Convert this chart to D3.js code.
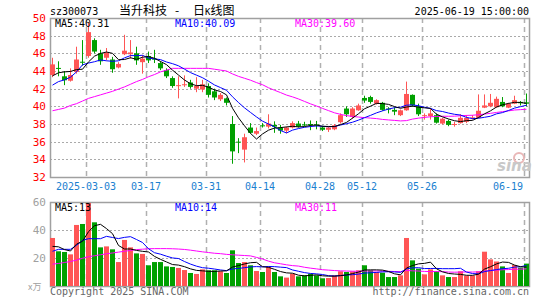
<!DOCTYPE html>
<html>
<head>
<meta charset="utf-8">
<script src="https://cdn.jsdelivr.net/npm/d3@7"></script>
<style>
body { margin: 0; background: #fff; }
svg { display: block; }
text { font-family: "DejaVu Sans Mono", monospace; font-size: 10px; }
</style>
</head>
<body>
<script>
// daily candles 2025-02-21 .. 2025-06-19 (80 trading days)
var open  = [43.55,44.35,43.4,42.9,43.9,45.05,45.7,47.5,46.0,45.5, 45.3,44.4,45.9,45.9,46.0,45.0,45.7,45.4,44.9,44.1,
             43.2,42.3,42.4,42.7,42.0,41.9,42.3,41.7,40.8,40.9, 38.0,36.0,35.1,37.6,36.9,37.85,37.7,37.9,37.6,37.25,
             37.6,38.05,37.95,38.0,37.95,37.6,37.35,37.4,38.2,39.75, 38.8,39.55,40.95,41.05,40.3,40.4,39.75,39.6,39.0,39.55,
             41.3,40.0,38.9,38.9,39.0,38.05,38.35,37.9,38.1,38.25, 38.65,38.7,39.85,40.0,39.9,40.5,39.85,40.3,40.5,40.45];
var close = [44.75,44.25,42.95,43.55,45.3,44.95,48.4,46.2,45.1,46.1, 44.2,44.8,46.3,46.1,45.2,45.4,45.2,45.3,44.3,43.4,
             42.3,42.4,42.5,42.2,42.3,42.5,41.3,41.0,41.3,40.4, 34.9,35.9,36.5,37.0,37.2,37.75,38.05,37.7,37.25,37.6,
             38.1,37.7,37.9,37.9,37.85,37.35,37.6,37.85,39.0,39.1, 39.75,40.1,40.65,40.5,40.7,39.6,39.65,39.4,39.55,41.4,
             40.1,39.1,39.0,39.2,38.15,38.6,37.9,38.0,38.7,38.7, 38.75,39.5,40.1,40.4,40.85,40.0,40.3,40.7,40.35,40.3];
var high  = [45.5,45.1,44.0,44.3,46.75,47.5,49.5,47.7,46.4,46.6, 45.6,45.0,48.1,47.5,46.75,45.8,46.2,46.4,45.1,44.3,
             43.4,43.4,43.5,43.0,43.3,43.0,42.6,42.0,41.5,41.0, 38.9,36.4,36.9,38.1,37.6,38.1,39.1,38.3,37.9,37.7,
             38.3,38.35,38.25,38.4,38.35,37.8,37.7,38.0,39.2,40.0, 39.9,40.3,41.2,41.2,40.8,40.5,39.9,39.9,39.65,42.8,
             41.35,40.3,39.2,39.7,39.2,38.7,38.5,38.25,39.1,39.0, 39.0,41.35,41.35,41.4,41.1,41.05,40.4,41.2,40.6,41.45];
var low   = [43.3,43.4,42.4,42.8,43.7,44.6,45.5,46.0,44.7,45.2, 43.8,44.3,45.8,45.4,44.7,43.7,44.9,44.9,44.1,43.2,
             42.1,40.9,42.2,42.0,41.6,41.6,41.0,40.7,40.6,40.1, 33.5,34.7,33.65,36.9,36.75,37.6,37.5,37.0,36.9,36.95,
             37.5,37.6,37.75,37.3,37.4,37.2,37.1,37.3,38.05,38.8, 38.6,39.5,40.4,40.3,40.2,39.5,39.2,39.0,38.9,39.5,
             39.95,38.9,38.5,38.5,38.05,37.95,37.75,37.7,38.05,38.1, 38.5,38.65,39.8,39.9,39.85,39.9,39.8,40.25,40.1,40.0];
// volume, 10k lots
var volume = [34.3,24.8,24.3,22.6,43.6,44.3,59.3,45.5,27.6,28.3, 26.2,17.1,32.9,27.6,23.3,22.9,14.8,17.1,17.1,14.0,
              13.6,12.9,11.4,9.3,8.6,11.9,11.2,11.2,10.5,9.3, 25.5,16.4,17.1,14.8,10.7,10.0,14.0,10.0,6.9,6.0,
              8.8,6.9,7.6,8.8,7.6,5.5,5.7,7.6,10.5,10.0, 10.5,11.2,14.8,11.2,10.0,9.5,6.4,6.4,7.6,34.3,
              18.3,12.4,8.3,11.9,10.5,7.6,6.4,6.4,10.5,7.4, 7.4,10.5,24.5,19.0,17.5,14.0,9.3,15.0,13.1,16.0];

// moving average values at the left edge (history before the window)
var ma5Head  = [43.45,43.8,43.9,43.95];
var ma10Head = [42.4,42.8,43.0,43.3,43.9,44.7,44.9,45.05,45.25];
var ma30Head = [39.5,39.65,39.8,40.1,40.3,40.6,40.9,41.1,41.3,41.5, 41.7,41.95,42.2,42.5,42.8,43.05,43.35,43.6,43.9,44.1,
                44.3,44.3,44.3,44.3,44.3,44.3,44.3,44.2,44.1];
var vma5Head  = [28.3,28.0,26.0,25.0];
var vma10Head = [24.8,26.2,26.2,26.2,29.0,32.6,33.8,33.8,33.8];
var vma30Head = [15.6,16.1,16.8,17.5,18.5,19.8,20.9,21.6,22.3,23.0, 23.6,24.2,24.8,25.4,26.0,26.3,26.6,26.7,26.7,26.7,
                 26.6,26.4,26.1,25.6,25.0,24.4,23.9,23.4,23.1];

var tickIdx = [6,16,26,35,45,52,62,79];
var tickLabels = ['2025-03-03','03-17','03-31','04-14','04-28','05-12','05-26','06-19'];
var priceTicks = [32,34,36,38,40,42,44,46,48,50];
var volTicks = [20,40,60];

var red = "#ff5555", green = "#00a000";

function movAvg(arr, n, head) {
    return arr.map(function (d, i) {
        if (i < n - 1) return head[i];
        return d3.mean(arr.slice(i - n + 1, i + 1));
    });
}

var ma5 = movAvg(close, 5, ma5Head), ma10 = movAvg(close, 10, ma10Head), ma30 = movAvg(close, 30, ma30Head);
var vma5 = movAvg(volume, 5, vma5Head), vma10 = movAvg(volume, 10, vma10Head), vma30 = movAvg(volume, 30, vma30Head);

const svg = d3.select("body").append("svg").attr("width", 545).attr("height", 300);

const x = d3.scaleLinear().domain([0, 80]).range([50, 530]);
const y = d3.scaleLinear().domain([32, 50]).range([177, 18]);
const yv = d3.scaleLinear().domain([0, 60]).range([286, 202]);

// header
svg.append("text").attr("x", 50).attr("y", 15).text("sz300073");
svg.append("text").attr("x", 529).attr("y", 15).attr("text-anchor", "end").text("2025-06-19 15:00:00");
var title = svg.append("text").attr("y", 15)
    .style("font-family", "'Noto Sans CJK SC', sans-serif").style("font-size", "12px");
title.append("tspan").attr("x", 119).text("当升科技");
title.append("tspan").attr("x", 175).text("-");
title.append("tspan").attr("x", 193).text("日");
title.append("tspan").style("font-family", "'DejaVu Sans Mono', monospace").style("font-size", "9px").text("K");
title.append("tspan").text("线图");

// grids
function grid(g, yScale, vals, top, bottom) {
    g.selectAll("line.h").data(vals).enter().append("line")
        .attr("x1", 50).attr("x2", 529)
        .attr("y1", function (d) { return Math.round(yScale(d)) + 0.5; })
        .attr("y2", function (d) { return Math.round(yScale(d)) + 0.5; })
        .attr("stroke", "#aaa").attr("stroke-dasharray", "2,2");
    g.selectAll("line.v").data(tickIdx).enter().append("line")
        .attr("x1", function (d) { return x(d) + 0.5; })
        .attr("x2", function (d) { return x(d) + 0.5; })
        .attr("y1", top).attr("y2", bottom)
        .attr("stroke", "#b0b0b0").attr("stroke-width", 1.5).attr("stroke-dasharray", "5,4");
}
grid(svg.append("g"), y, [34,36,38,40,42,44,46,48], 18, 177);
grid(svg.append("g"), yv, [20,40], 202, 286);

// frames
svg.append("rect").attr("x", 50.5).attr("y", 18.5).attr("width", 479).attr("height", 159)
    .attr("fill", "none").attr("stroke", "#a0a0a0").attr("stroke-width", 1.5);
svg.append("rect").attr("x", 50.5).attr("y", 202.5).attr("width", 479).attr("height", 84)
    .attr("fill", "none").attr("stroke", "#a0a0a0").attr("stroke-width", 1.5);

// axis labels
svg.selectAll("text.py").data(priceTicks).enter().append("text")
    .attr("x", 46).attr("y", function (d) { return y(d) + 4; })
    .attr("text-anchor", "end").attr("fill", "#ff0000").style("font-size", "11px")
    .text(function (d) { return d; });
svg.selectAll("text.vy").data(volTicks).enter().append("text")
    .attr("x", 46).attr("y", function (d) { return yv(d) + 4; })
    .attr("text-anchor", "end").attr("fill", "#a0a0a0").style("font-size", "11px")
    .text(function (d) { return d; });
svg.append("text").attr("x", 28).attr("y", 290).attr("fill", "#a0a0a0")
    .style("font-family", "'Noto Sans CJK SC', sans-serif").style("font-size", "9px").text("x万");

svg.selectAll("text.dt").data(tickIdx).enter().append("text")
    .attr("x", function (d, i) { return i === tickIdx.length - 1 ? 523 : x(d); })
    .attr("y", 190)
    .attr("text-anchor", function (d, i) { return i === tickIdx.length - 1 ? "end" : "middle"; })
    .attr("fill", "#1a80d0")
    .text(function (d, i) { return tickLabels[i]; });

// watermark
svg.append("circle").attr("cx", 519).attr("cy", 158).attr("r", 5)
    .attr("fill", "none").attr("stroke", "#e9b7b7").attr("stroke-width", 2);
svg.append("text").attr("x", 497).attr("y", 171).attr("fill", "#c8c8c8")
    .style("font-family", "'DejaVu Sans', sans-serif").style("font-size", "15px")
    .style("font-weight", "bold").style("font-style", "italic").text("sina");

// candles
var candles = svg.append("g").selectAll("g").data(close).enter().append("g");
candles.append("line")
    .attr("x1", function (d, i) { return x(i) + 2.5; })
    .attr("x2", function (d, i) { return x(i) + 2.5; })
    .attr("y1", function (d, i) { return y(high[i]); })
    .attr("y2", function (d, i) { return y(low[i]); })
    .attr("stroke", function (d, i) { return close[i] >= open[i] ? red : green; });
candles.append("rect")
    .attr("x", function (d, i) { return x(i); })
    .attr("y", function (d, i) { return y(Math.max(open[i], close[i])); })
    .attr("width", 5)
    .attr("height", function (d, i) { return Math.max(1, y(Math.min(open[i], close[i])) - y(Math.max(open[i], close[i]))); })
    .attr("fill", function (d, i) { return close[i] >= open[i] ? red : green; });

// volume bars
svg.append("g").selectAll("rect").data(volume).enter().append("rect")
    .attr("x", function (d, i) { return x(i); })
    .attr("y", function (d) { return yv(d); })
    .attr("width", 5)
    .attr("height", function (d) { return yv(0) - yv(d); })
    .attr("fill", function (d, i) { return close[i] >= open[i] ? red : green; });

// moving averages
function drawLine(data, yScale, color) {
    var line = d3.line().x(function (d, i) { return x(i) + 2.5; }).y(function (d) { return yScale(d); });
    svg.append("path").attr("d", line(data)).attr("fill", "none")
        .attr("stroke", color).attr("stroke-width", 1);
}
drawLine(ma30, y, "#ff00ff");
drawLine(ma10, y, "#0000ff");
drawLine(ma5, y, "#000000");
drawLine(vma30, yv, "#ff00ff");
drawLine(vma10, yv, "#0000ff");
drawLine(vma5, yv, "#000000");

// legends
svg.append("text").attr("x", 55).attr("y", 27).text("MA5:40.31");
svg.append("text").attr("x", 175).attr("y", 27).attr("fill", "#0000ff").text("MA10:40.09");
svg.append("text").attr("x", 295).attr("y", 27).attr("fill", "#ff00ff").text("MA30:39.60");
svg.append("text").attr("x", 55).attr("y", 211).text("MA5:13");
svg.append("text").attr("x", 175).attr("y", 211).attr("fill", "#0000ff").text("MA10:14");
svg.append("text").attr("x", 295).attr("y", 211).attr("fill", "#ff00ff").text("MA30:11");

// footer
svg.append("text").attr("x", 50).attr("y", 295).attr("fill", "#666").text("Copyright 2025 SINA.COM");
svg.append("text").attr("x", 529).attr("y", 295).attr("text-anchor", "end").attr("fill", "#666").text("http://finance.sina.com.cn");
</script>
</body>
</html>
